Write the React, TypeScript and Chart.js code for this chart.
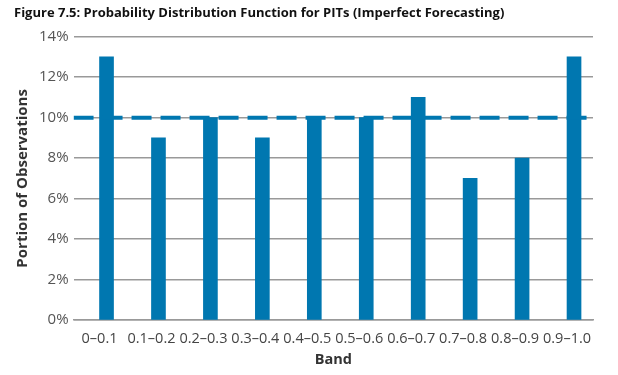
import React, { useEffect, useRef } from "react";
import { Chart, registerables } from "chart.js";
Chart.register(...registerables);

const categories = ["0–0.1", "0.1–0.2", "0.2–0.3", "0.3–0.4", "0.4–0.5", "0.5–0.6", "0.6–0.7", "0.7–0.8", "0.8–0.9", "0.9–1.0"];
const portions = [13, 9, 10, 9, 10, 10, 11, 7, 8, 13];
const uniformLevel = 10;
const yTicks = [0, 2, 4, 6, 8, 10, 12, 14];

const BLUE = "#0077b0";
const FONT = "'Open Sans', sans-serif";

export default function App() {
  const ref = useRef<HTMLCanvasElement>(null);
  useEffect(() => {
    document.body.style.margin = "0";
    const chart = new Chart(ref.current!, {
      type: "bar",
      data: {
        labels: categories,
        datasets: [
          {
            type: "line",
            data: [
              { x: 0, y: uniformLevel },
              { x: 1, y: uniformLevel },
            ],
            xAxisID: "x2",
            borderColor: BLUE,
            borderWidth: 4,
            borderDash: [20, 9],
            pointRadius: 0,
            order: 0,
          } as any,
          {
            data: portions,
            backgroundColor: BLUE,
            barThickness: 14,
            order: 1,
          },
        ],
      },
      options: {
        animation: false,
        responsive: false,
        layout: { padding: { left: 14, right: 25, top: 0, bottom: 2 } },
        plugins: {
          legend: { display: false },
          tooltip: { enabled: false },
          title: {
            display: true,
            text: "Figure 7.5: Probability Distribution Function for PITs (Imperfect Forecasting)",
            align: "start",
            color: "#111",
            font: { family: FONT, size: 13, weight: "bold" },
            padding: { top: 5, bottom: 16 },
          },
        },
        scales: {
          x: {
            grid: { display: false },
            border: { color: "#999", width: 1.5 },
            ticks: { color: "#444", font: { family: FONT, size: 14.5 }, maxRotation: 0, autoSkip: false, padding: 2 },
            title: { display: true, text: "Band", color: "#333", font: { family: FONT, size: 14.5, weight: "bold" }, padding: { top: 2 } },
          },
          x2: {
            type: "linear",
            display: false,
            offset: false,
            min: 0,
            max: 1,
          },
          y: {
            min: 0,
            max: 14,
            afterBuildTicks: (axis: any) => {
              axis.ticks = yTicks.map((v) => ({ value: v }));
            },
            grid: { color: "#999", lineWidth: 1.5, drawTicks: false },
            border: { display: false },
            ticks: { color: "#555", font: { family: FONT, size: 15 }, padding: 5, callback: (v: any) => v + "%" },
            title: { display: true, text: "Portion of Observations", color: "#333", font: { family: FONT, size: 15, weight: "bold" }, padding: { top: 0, bottom: 2 } },
          },
        },
      },
    } as any);
    return () => chart.destroy();
  }, []);
  return <canvas ref={ref} width={618} height={375} style={{ display: "block" }} />;
}
